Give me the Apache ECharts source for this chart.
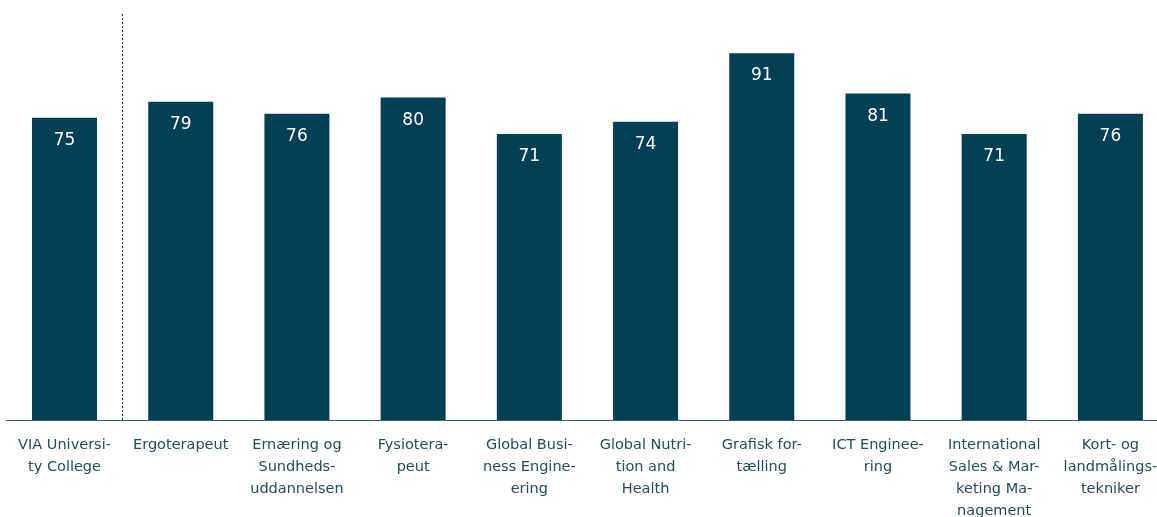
<!DOCTYPE html>
<html><head><meta charset="utf-8">
<script src="https://cdn.jsdelivr.net/npm/echarts@6/dist/echarts.min.js"></script>
<style>html,body{margin:0;padding:0;background:#fff}#c{width:1157px;height:517px}</style>
</head><body><div id="c"></div>
<script>
const categories = [
  "VIA Universi-\nty College",
  "Ergoterapeut",
  "Ernæring og\nSundheds-\nuddannelsen",
  "Fysiotera-\npeut",
  "Global Busi-\nness Engine-\nering",
  "Global Nutri-\ntion and\nHealth",
  "Grafisk for-\ntælling",
  "ICT Enginee-\nring",
  "International\nSales & Mar-\nketing Ma-\nnagement",
  "Kort- og\nlandmålings-\ntekniker"
];
const values = [75, 79, 76, 80, 71, 74, 91, 81, 71, 76];
const separatorAfter = [1];

const chart = echarts.init(document.getElementById('c'));
chart.setOption({
  animation: false,
  grid: { left: 6.4, right: -11.5, top: 13, bottom: 97, containLabel: false, outerBoundsMode: 'none' },
  xAxis: [{
    type: 'category',
    data: categories,
    boundaryGap: true,
    axisLine: { show: true, lineStyle: { color: '#3d6373', width: 1 } },
    axisTick: { show: false },
    axisLabel: {
      interval: 0, margin: 14, color: '#1f4b5c',
      fontFamily: 'DejaVu Sans', fontSize: 14.5, lineHeight: 22, align: 'center'
    },
    splitLine: { show: false }
  }, {
    type: 'value', min: 0, max: categories.length, show: false,
    position: 'bottom'
  }],
  yAxis: {
    type: 'value', min: 0, max: 101, show: false,
    splitLine: { show: false }
  },
  series: [{
    type: 'bar',
    data: values,
    barWidth: 65,
    itemStyle: { color: '#003f54' },
    label: {
      show: true, position: 'insideTop', distance: 14,
      color: '#ffffff', fontFamily: 'DejaVu Sans', fontSize: 17
    }
  }, {
    type: 'line', xAxisIndex: 1, data: [],
    markLine: {
      silent: true, symbol: ['none', 'none'], label: { show: false },
      lineStyle: { color: '#222', type: [2, 2], width: 1 },
      data: separatorAfter.map(v => ({ xAxis: v }))
    }
  }]
});
</script></body></html>
